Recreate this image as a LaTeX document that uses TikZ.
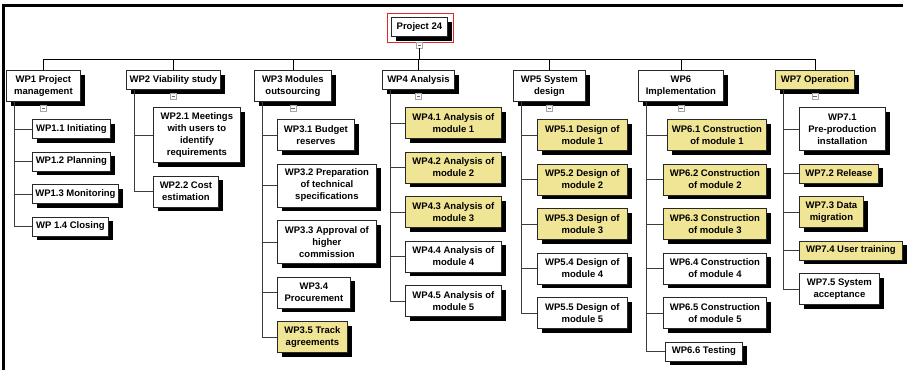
\documentclass[tikz,border=0pt]{standalone}
\usepackage{fontspec}
\setmainfont{Liberation Sans}
\usetikzlibrary{shadows}
\definecolor{wpyellow}{RGB}{240,229,148}
\definecolor{wpborder}{RGB}{40,40,40}
\definecolor{treeline}{RGB}{60,60,60}
\definecolor{selred}{RGB}{220,40,40}
\begin{document}
\begin{tikzpicture}[x=1pt,y=-1pt,
  wpbox/.style={draw=wpborder,line width=0.8pt,fill=white,inner sep=0pt,
    anchor=north west,align=center,
    font=\bfseries\fontsize{9.5}{12}\selectfont,
    drop shadow={shadow xshift=4.5pt,shadow yshift=-4.5pt,opacity=1,fill=black}},
  wpdone/.style={wpbox,fill=wpyellow},
  tree/.style={draw=treeline,line width=0.8pt},
  marker/.style={draw=gray!70,line width=0.5pt,fill=white,inner sep=0pt,
    minimum size=6pt,
    path picture={\draw[gray!80!black,line width=0.6pt]
      ([xshift=1.4pt]path picture bounding box.west) --
      ([xshift=-1.4pt]path picture bounding box.east);}},
]
\useasboundingbox (0,0) rectangle (909,370);

% page frame (top and left edges)
\draw[line width=3pt] (3,370) -- (3,5.5) -- (903,5.5);

% root
\node[wpbox,minimum width=56pt,minimum height=19pt] (proj) at (391,17) {Project 24};
\draw[selred,line width=1pt] ([shift={(-4,-4)}]proj.north west) rectangle ([shift={(5.5,5.5)}]proj.south east);

% top-level work packages
\node[wpbox,minimum width=74pt,minimum height=31pt] (wp1) at (6,70) {WP1 Project\\management};
\node[wpbox,minimum width=94pt,minimum height=19pt] (wp2) at (126,70) {WP2 Viability study};
\node[wpbox,minimum width=77pt,minimum height=31pt] (wp3) at (254,70) {WP3 Modules\\outsourcing};
\node[wpbox,minimum width=72pt,minimum height=19pt] (wp4) at (382,70) {WP4 Analysis};
\node[wpbox,minimum width=72pt,minimum height=31pt] (wp5) at (513,70) {WP5 System\\design};
\node[wpbox,minimum width=85pt,minimum height=31pt] (wp6) at (638,70) {WP6\\Implementation};
\node[wpdone,minimum width=79pt,minimum height=19pt] (wp7) at (775,70) {WP7 Operation};

% WP1
\node[wpbox,minimum width=78pt,minimum height=19pt] (wp11) at (32,119) {WP1.1 Initiating};
\node[wpbox,minimum width=78pt,minimum height=19pt] (wp12) at (32,151.5) {WP1.2 Planning};
\node[wpbox,minimum width=86pt,minimum height=19pt] (wp13) at (32,184) {WP1.3 Monitoring};
\node[wpbox,minimum width=76pt,minimum height=19pt] (wp14) at (32,216.5) {WP 1.4 Closing};

% WP2
\node[wpbox,minimum width=87pt,minimum height=55pt] (wp21) at (153,107) {WP2.1 Meetings\\with users to\\identify\\requirements};
\node[wpbox,minimum width=65pt,minimum height=31pt] (wp22) at (153,175.5) {WP2.2 Cost\\estimation};

% WP3
\node[wpbox,minimum width=77pt,minimum height=31pt] (wp31) at (277,119) {WP3.1 Budget\\reserves};
\node[wpbox,minimum width=99pt,minimum height=43pt] (wp32) at (277,163.5) {WP3.2 Preparation\\of technical\\specifications};
\node[wpbox,minimum width=99pt,minimum height=43pt] (wp33) at (277,220) {WP3.3 Approval of\\higher\\commission};
\node[wpbox,minimum width=73pt,minimum height=31pt] (wp34) at (277,276.5) {WP3.4\\Procurement};
\node[wpdone,minimum width=70pt,minimum height=31pt] (wp35) at (277,321) {WP3.5 Track\\agreements};

% WP4
\node[wpdone,minimum width=96pt,minimum height=31pt] (wp41) at (405,107) {WP4.1 Analysis of\\module 1};
\node[wpdone,minimum width=96pt,minimum height=31pt] (wp42) at (405,151.5) {WP4.2 Analysis of\\module 2};
\node[wpdone,minimum width=96pt,minimum height=31pt] (wp43) at (405,196) {WP4.3 Analysis of\\module 3};
\node[wpbox,minimum width=96pt,minimum height=31pt] (wp44) at (405,240.5) {WP4.4 Analysis of\\module 4};
\node[wpbox,minimum width=96pt,minimum height=31pt] (wp45) at (405,285) {WP4.5 Analysis of\\module 5};

% WP5
\node[wpdone,minimum width=90pt,minimum height=31pt] (wp51) at (537,119) {WP5.1 Design of\\module 1};
\node[wpdone,minimum width=90pt,minimum height=31pt] (wp52) at (537,163.5) {WP5.2 Design of\\module 2};
\node[wpdone,minimum width=90pt,minimum height=31pt] (wp53) at (537,208) {WP5.3 Design of\\module 3};
\node[wpbox,minimum width=90pt,minimum height=31pt] (wp54) at (537,252.5) {WP5.4 Design of\\module 4};
\node[wpbox,minimum width=90pt,minimum height=31pt] (wp55) at (537,297) {WP5.5 Design of\\module 5};

% WP6
\node[wpdone,minimum width=99pt,minimum height=31pt] (wp61) at (667,119) {WP6.1 Construction\\of module 1};
\node[wpdone,minimum width=103pt,minimum height=31pt] (wp62) at (663,163.5) {WP6.2 Construction\\of module 2};
\node[wpdone,minimum width=103pt,minimum height=31pt] (wp63) at (663,208) {WP6.3 Construction\\of module 3};
\node[wpbox,minimum width=103pt,minimum height=31pt] (wp64) at (663,252.5) {WP6.4 Construction\\of module 4};
\node[wpbox,minimum width=103pt,minimum height=31pt] (wp65) at (663,297) {WP6.5 Construction\\of module 5};
\node[wpbox,minimum width=77pt,minimum height=19pt] (wp66) at (665,341.5) {WP6.6 Testing};

% WP7
\node[wpbox,minimum width=86pt,minimum height=43pt] (wp71) at (799,107) {WP7.1\\Pre-production\\installation};
\node[wpdone,minimum width=79pt,minimum height=19pt] (wp72) at (799,163.5) {WP7.2 Release};
\node[wpdone,minimum width=64pt,minimum height=31pt] (wp73) at (799,196) {WP7.3 Data\\migration};
\node[wpdone,minimum width=103pt,minimum height=19pt] (wp74) at (799,240.5) {WP7.4 User training};
\node[wpbox,minimum width=80pt,minimum height=31pt] (wp75) at (799,273) {WP7.5 System\\acceptance};

% collapse markers
\node[marker] (mproj) at ([yshift=-8pt]proj.south) {};
\foreach \p in {wp1,wp2,wp3,wp4,wp5,wp6,wp7}
  \node[marker] (m\p) at ([yshift=-6pt]\p.south) {};

% bus from the root to the top-level packages
\coordinate (bus) at (0,59);
\draw[tree,draw=black] (mproj.south) -- (mproj.south |- bus);
\draw[tree,draw=black] (wp1.north) -- (wp1.north |- bus) -| (wp7.north);
\foreach \p in {wp2,wp3,wp4,wp5,wp6}
  \draw[tree,draw=black] (\p.north) -- (\p.north |- bus);

% child connectors
\foreach \p/\kids in {wp1/{wp11,wp12,wp13,wp14},
                      wp2/{wp21,wp22},
                      wp3/{wp31,wp32,wp33,wp34,wp35},
                      wp4/{wp41,wp42,wp43,wp44,wp45},
                      wp5/{wp51,wp52,wp53,wp54,wp55},
                      wp6/{wp61,wp62,wp63,wp64,wp65,wp66},
                      wp7/{wp71,wp72,wp73,wp74,wp75}}
  \foreach \k in \kids
    \draw[tree] ([xshift=8pt]\p.south west) |- (\k.west);
\end{tikzpicture}
\end{document}
